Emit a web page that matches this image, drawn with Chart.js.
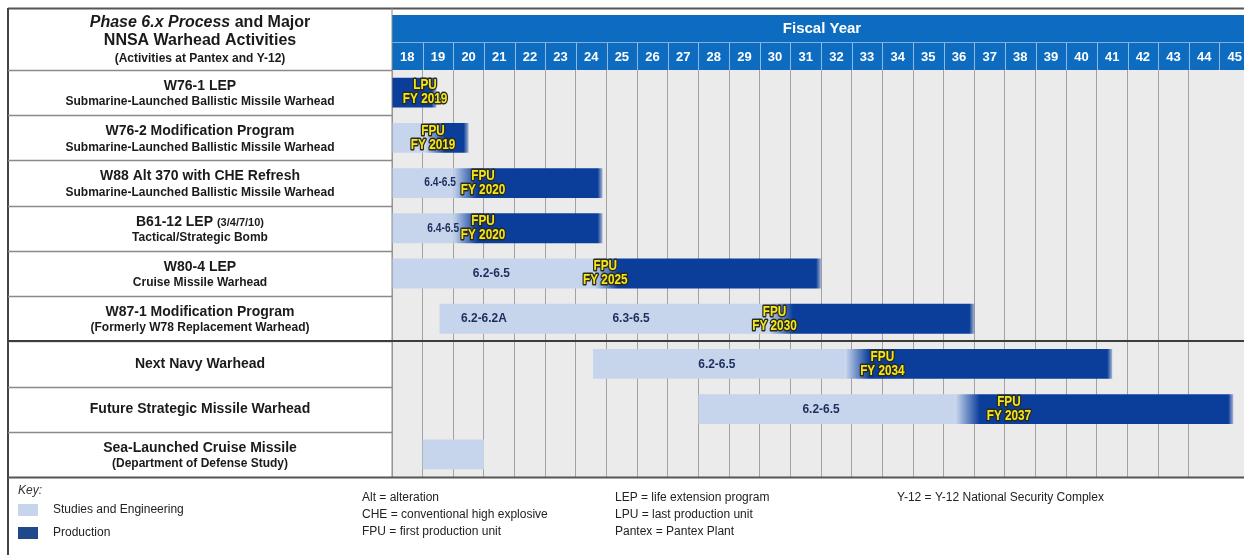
<!DOCTYPE html>
<html>
<head>
<meta charset="utf-8">
<script src="https://cdn.jsdelivr.net/npm/chart.js@4.4.1/dist/chart.umd.min.js"></script>
<style>
  body { margin: 0; background: #fff; }
  canvas { display: block; }
</style>
</head>
<body>
<canvas id="schedule" width="1244" height="555"></canvas>
<script>
// rows, top to bottom
const programs = [
  'W76-1 LEP',
  'W76-2 Modification Program',
  'W88 Alt 370 with CHE Refresh',
  'B61-12 LEP',
  'W80-4 LEP',
  'W87-1 Modification Program',
  'Next Navy Warhead',
  'Future Strategic Missile Warhead',
  'Sea-Launched Cruise Missile'
];
const subtitles = [
  'Submarine-Launched Ballistic Missile Warhead',
  'Submarine-Launched Ballistic Missile Warhead',
  'Submarine-Launched Ballistic Missile Warhead',
  'Tactical/Strategic Bomb',
  'Cruise Missile Warhead',
  '(Formerly W78 Replacement Warhead)',
  '',
  '',
  '(Department of Defense Study)'
];
const fiscalYears = ['18','19','20','21','22','23','24','25','26','27','28','29','30','31',
  '32','33','34','35','36','37','38','39','40','41','42','43','44','45'];

// fiscal year positions (2-digit years)
const studyStart      = [null, 18,   18,   18,   18,   19.55, 24.56, 28.0,  19];
const studyEnd        = [null, 19.1, 20.0, 20.0, 24.6, 30.3,  32.8,  36.4,  21];
const productionStart = [18,   19.1, 20.0, 20.0, 24.6, 30.3,  32.8,  36.4,  null];
const productionEnd   = [19.45, 20.5, 24.87, 24.87, 32.0, 37.0, 41.5, 45.45, null];

// phase labels on the light bars
const phaseText = ['6.4-6.5', '6.4-6.5', '6.2-6.5', '6.2-6.2A', '6.3-6.5', '6.2-6.5', '6.2-6.5'];
const phaseRow  = [2, 3, 4, 5, 5, 6, 7];
const phaseAt   = [19.57, 19.67, 21.24, 21.0, 25.8, 28.6, 32.0];

// milestone labels (yellow)
const milestoneTop    = ['LPU', 'FPU', 'FPU', 'FPU', 'FPU', 'FPU', 'FPU', 'FPU'];
const milestoneBottom = ['FY 2019', 'FY 2019', 'FY 2020', 'FY 2020', 'FY 2025', 'FY 2030', 'FY 2034', 'FY 2037'];
const milestoneRow    = [0, 1, 2, 3, 4, 5, 6, 7];
const milestoneAt     = [19.08, 19.34, 20.97, 20.97, 24.96, 30.48, 34.0, 38.13];

const abbreviations = [
  ['Alt = alteration', 'CHE = conventional high explosive', 'FPU = first production unit'],
  ['LEP = life extension program', 'LPU = last production unit', 'Pantex = Pantex Plant'],
  ['Y-12 = Y-12 National Security Complex']
];

const LIGHT = '#c6d5ec';
const DARK = '#0b3d9b';
const HEADER = '#0d6cc0';
const SANS = '"Liberation Sans", Arial, sans-serif';

const pairs = (a, b) => a.map((s, i) => (s == null ? null : [s, b[i]]));

const productionFill = (c) => {
  const chart = c.chart;
  const i = c.dataIndex;
  if (!chart.chartArea || c.type !== 'data' || productionStart[i] == null) return DARK;
  const xs = chart.scales.x;
  const x0 = xs.getPixelForValue(productionStart[i]);
  const x1 = xs.getPixelForValue(productionEnd[i]);
  const w = x1 - x0;
  const g = chart.ctx.createLinearGradient(x0, 0, x1, 0);
  g.addColorStop(0, studyEnd[i] != null ? LIGHT : DARK);
  g.addColorStop(Math.min(0.45, 24 / w), DARK);
  g.addColorStop(Math.max(0.55, 1 - 5 / w), DARK);
  g.addColorStop(1, 'rgba(11,61,155,0.3)');
  return g;
};

const line = (ctx, x0, y0, x1, y1, color, width) => {
  ctx.beginPath();
  ctx.strokeStyle = color;
  ctx.lineWidth = width;
  ctx.moveTo(x0, y0);
  ctx.lineTo(x1, y1);
  ctx.stroke();
};

const text = (ctx, str, x, y, font, color, align) => {
  ctx.font = font;
  ctx.fillStyle = color;
  ctx.textAlign = align || 'center';
  ctx.textBaseline = 'middle';
  ctx.fillText(str, x, y);
};

// condensed text (no narrow face installed), optional outline
const narrow = (ctx, str, x, y, font, squeeze, color, outline) => {
  ctx.save();
  ctx.translate(x, y);
  ctx.scale(squeeze, 1);
  ctx.font = font;
  ctx.textAlign = 'center';
  ctx.textBaseline = 'middle';
  if (outline) {
    ctx.lineJoin = 'round';
    ctx.lineWidth = 3;
    ctx.strokeStyle = outline;
    ctx.strokeText(str, 0, 0);
  }
  ctx.fillStyle = color;
  ctx.fillText(str, 0, 0);
  ctx.restore();
};

const frame = {
  id: 'frame',
  beforeDraw(chart) {
    const { ctx, chartArea: a } = chart;
    ctx.save();
    ctx.fillStyle = '#fff';
    ctx.fillRect(0, 0, chart.width, chart.height);
    ctx.fillStyle = '#ebebeb';
    ctx.fillRect(a.left, a.top, a.right - a.left, a.bottom - a.top);
    ctx.restore();
  },
  afterDatasetsDraw(chart) {
    const { ctx, scales: { x, y } } = chart;
    phaseText.forEach((t, k) => {
      const small = phaseRow[k] < 4;
      narrow(ctx, t, x.getPixelForValue(phaseAt[k]), y.getPixelForValue(phaseRow[k]),
        'bold ' + (small ? 12 : 13) + 'px ' + SANS, small ? 0.85 : 0.92, '#1d2d5c');
    });
    milestoneTop.forEach((t, k) => {
      const px = x.getPixelForValue(milestoneAt[k]);
      const py = y.getPixelForValue(milestoneRow[k]);
      narrow(ctx, t, px, py - 7, 'bold 14px ' + SANS, 0.84, '#f3e81c', '#2b2a22');
      narrow(ctx, milestoneBottom[k], px, py + 7, 'bold 14px ' + SANS, 0.84, '#f3e81c', '#2b2a22');
    });
  },
  afterDraw(chart) {
    const { ctx, chartArea: a, scales: { x, y } } = chart;
    const half = (y.getPixelForValue(1) - y.getPixelForValue(0)) / 2;
    ctx.save();

    // header band
    ctx.fillStyle = HEADER;
    ctx.fillRect(a.left, 15, a.right - a.left, a.top - 15);
    line(ctx, a.left, 42.5, a.right, 42.5, '#7fb0e2', 1);
    fiscalYears.forEach((yr, k) => {
      const v = Number(yr);
      const x0 = x.getPixelForValue(v);
      if (k > 0) line(ctx, Math.round(x0) + 0.5, 43, Math.round(x0) + 0.5, a.top, '#8dbbe8', 1);
      text(ctx, yr, x.getPixelForValue(v + 0.5), 57, 'bold 13px ' + SANS, '#fff');
    });
    text(ctx, 'Fiscal Year', (a.left + a.right) / 2 + 4, 29, 'bold 15px ' + SANS, '#fff');

    // outer lines
    line(ctx, 8, 8.5, chart.width, 8.5, '#555', 2);
    line(ctx, 8, 8, 8, chart.height, '#444', 2);
    line(ctx, a.left, 8, a.left, a.bottom, '#8a8a8a', 1);

    // left column
    const cx = (8 + a.left) / 2;
    ctx.font = 'bold italic 16px ' + SANS;
    const w1 = ctx.measureText('Phase 6.x Process').width;
    ctx.font = 'bold 16px ' + SANS;
    const w2 = ctx.measureText(' and Major').width;
    text(ctx, 'Phase 6.x Process', cx - (w1 + w2) / 2, 23, 'bold italic 16px ' + SANS, '#1a1a1a', 'left');
    text(ctx, ' and Major', cx - (w1 + w2) / 2 + w1, 23, 'bold 16px ' + SANS, '#1a1a1a', 'left');
    text(ctx, 'NNSA Warhead Activities', cx, 41, 'bold 16px ' + SANS, '#1a1a1a');
    text(ctx, '(Activities at Pantex and Y-12)', cx, 59, 'bold 12px ' + SANS, '#1a1a1a');

    programs.forEach((p, i) => {
      const top = y.getPixelForValue(i) - half;
      const bottom = y.getPixelForValue(i) + half;
      line(ctx, 8, Math.round(top) + 0.5, a.left, Math.round(top) + 0.5, '#8a8a8a', 1.5);
      if (!subtitles[i]) {
        text(ctx, p, cx, (top + bottom) / 2, 'bold 14px ' + SANS, '#1a1a1a');
        return;
      }
      if (i === 3) {
        ctx.font = 'bold 14px ' + SANS;
        const a1 = ctx.measureText(p + ' ').width;
        ctx.font = 'bold 11px ' + SANS;
        const a2 = ctx.measureText('(3/4/7/10)').width;
        text(ctx, p + ' ', cx - (a1 + a2) / 2, top + 16, 'bold 14px ' + SANS, '#1a1a1a', 'left');
        text(ctx, '(3/4/7/10)', cx - (a1 + a2) / 2 + a1, top + 17, 'bold 11px ' + SANS, '#1a1a1a', 'left');
      } else {
        text(ctx, p, cx, top + 16, 'bold 14px ' + SANS, '#1a1a1a');
      }
      text(ctx, subtitles[i], cx, top + 32, 'bold 12px ' + SANS, '#1a1a1a');
    });

    // divider between current and future programs, bottom rule
    const mid = Math.round((y.getPixelForValue(5) + y.getPixelForValue(6)) / 2);
    line(ctx, 8, mid, chart.width, mid, '#3c3c3c', 2);
    line(ctx, 8, a.bottom + 0.5, chart.width, a.bottom + 0.5, '#555', 2);

    // key
    text(ctx, 'Key:', 18, 491, 'italic 12px ' + SANS, '#333', 'left');
    ctx.fillStyle = LIGHT;
    ctx.fillRect(18, 504, 20, 12);
    ctx.fillStyle = '#1e4a8c';
    ctx.fillRect(18, 527, 20, 12);
    text(ctx, 'Studies and Engineering', 53, 510, '12px ' + SANS, '#222', 'left');
    text(ctx, 'Production', 53, 533, '12px ' + SANS, '#222', 'left');
    const colX = [362, 615, 897];
    abbreviations.forEach((col, c) => {
      col.forEach((s, r) => text(ctx, s, colX[c], 498 + r * 17, '12px ' + SANS, '#222', 'left'));
    });
    ctx.restore();
  }
};

new Chart(document.getElementById('schedule'), {
  type: 'bar',
  data: {
    labels: programs,
    datasets: [
      {
        label: 'Production',
        data: pairs(productionStart, productionEnd),
        backgroundColor: productionFill,
        grouped: false,
        barPercentage: 0.66,
        categoryPercentage: 1
      },
      {
        label: 'Studies and Engineering',
        data: pairs(studyStart, studyEnd),
        backgroundColor: LIGHT,
        grouped: false,
        barPercentage: 0.66,
        categoryPercentage: 1
      }
    ]
  },
  options: {
    indexAxis: 'y',
    responsive: false,
    animation: false,
    layout: { padding: { left: 392, top: 70, right: 0, bottom: 78 } },
    plugins: { legend: { display: false }, tooltip: { enabled: false } },
    scales: {
      x: {
        type: 'linear',
        min: 18,
        max: 45.8,
        ticks: { display: false, stepSize: 1 },
        grid: { color: '#a2a2a2', lineWidth: 1, drawTicks: false },
        border: { display: false }
      },
      y: { display: false }
    }
  },
  plugins: [frame]
});
</script>
</body>
</html>
